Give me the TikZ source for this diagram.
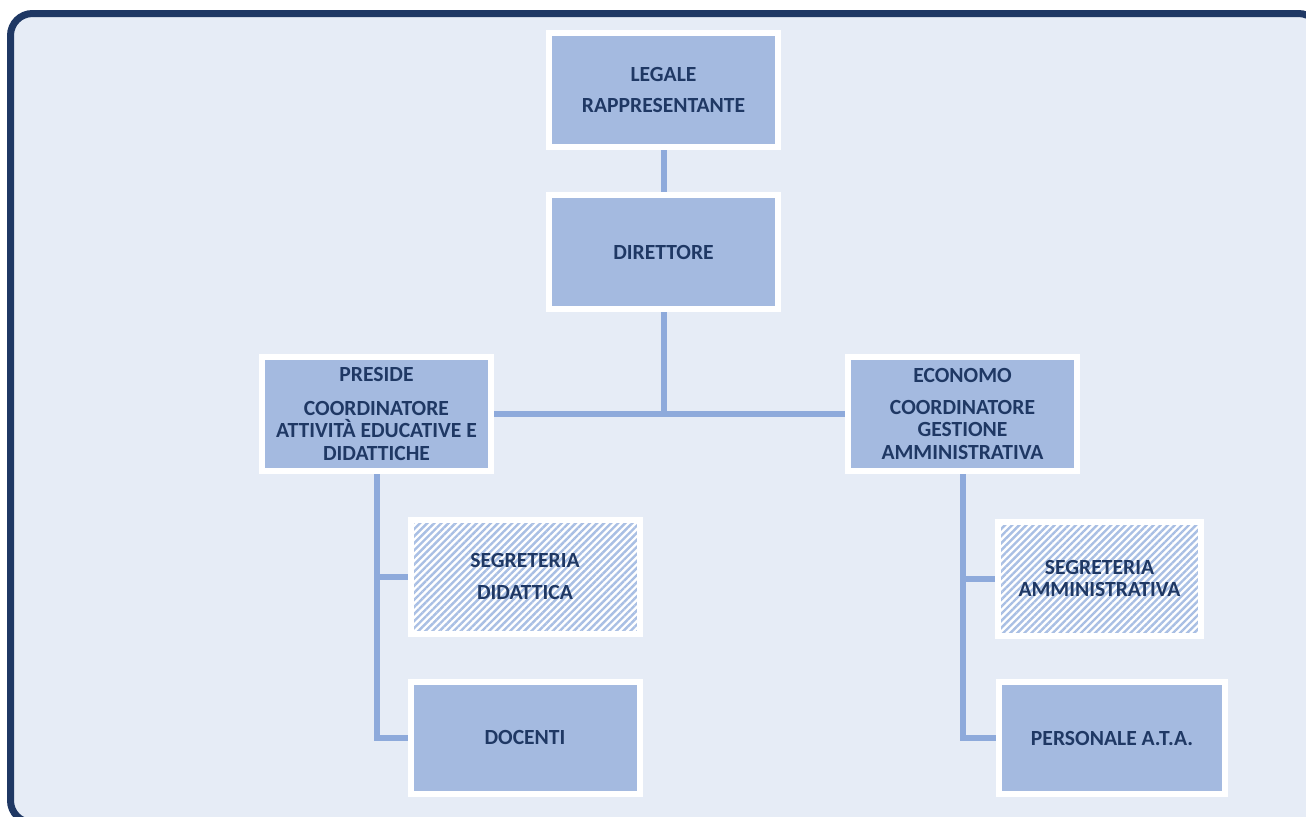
\documentclass[tikz,border=0pt]{standalone}
\usepackage{fontspec}
\setmainfont{Carlito}
\usetikzlibrary{patterns.meta}
\definecolor{navy}{HTML}{1F3864}
\definecolor{pale}{HTML}{E6ECF6}
\definecolor{boxblue}{HTML}{A4BAE0}
\definecolor{linkblue}{HTML}{8EAADB}
\definecolor{hatchblue}{HTML}{A9BFE4}
\pgfdeclarelayer{bg}
\pgfdeclarelayer{links}
\pgfsetlayers{bg,links,main}
\begin{document}
\begin{tikzpicture}[x=0.5pt,y=-0.5pt,
  orgbox/.style={draw=white, line width=3pt, fill=boxblue, text=navy,
    font=\bfseries\fontsize{10.8}{11.3}\selectfont, align=center, inner sep=0pt,
    minimum width=114.5pt, minimum height=57pt},
  hatchbox/.style={orgbox, fill=none, preaction={fill=white},
    pattern={Lines[angle=45,distance=2.5pt,line width=1.2pt]}, pattern color=hatchblue},
  link/.style={draw=linkblue, line width=3pt}]
\useasboundingbox (0,0) rectangle (1306,816);
\begin{pgfonlayer}{bg}
  \fill[white] (0,0) rectangle (1306,816);
  \draw[navy, line width=3.5pt, fill=pale, rounded corners=11pt] (10.5,13.5) rectangle (1320.5,822.5);
\end{pgfonlayer}

\node[orgbox] (leg) at (663.5,90) {LEGALE\\[4.5pt]RAPPRESENTANTE};
\node[orgbox] (dir) at (663.5,252) {DIRETTORE};
\node[orgbox] (pre) at (376.5,414) {PRESIDE\\[5.5pt]COORDINATORE\\ATTIVITÀ EDUCATIVE E\\DIDATTICHE};
\node[orgbox] (eco) at (962.5,414) {ECONOMO\\[4.5pt]COORDINATORE\\GESTIONE\\AMMINISTRATIVA};
\node[hatchbox] (segd) at (525,576.5) {SEGRETERIA\\[4.5pt]DIDATTICA};
\node[orgbox, minimum height=56pt] (doc) at (525,737.5) {DOCENTI};
\node[hatchbox, minimum width=101.5pt] (sega) at (1099.5,578.5) {SEGRETERIA\\AMMINISTRATIVA};
\node[orgbox, minimum width=113pt, minimum height=56pt] (pers) at (1112,738) {PERSONALE A.T.A.};

\begin{pgfonlayer}{links}
  \draw[link] (leg.south) -- (dir.north);
  \draw[link] (dir.south) -- (dir.south |- pre.east);
  \draw[link] (pre.east) -- (eco.west);
  \draw[link] (pre.south) -- (pre.south |- doc.west) -- (doc.west);
  \draw[link] (pre.south |- segd.west) -- (segd.west);
  \draw[link] (eco.south) -- (eco.south |- pers.west) -- (pers.west);
  \draw[link] (eco.south |- sega.west) -- (sega.west);
\end{pgfonlayer}
\end{tikzpicture}
\end{document}
